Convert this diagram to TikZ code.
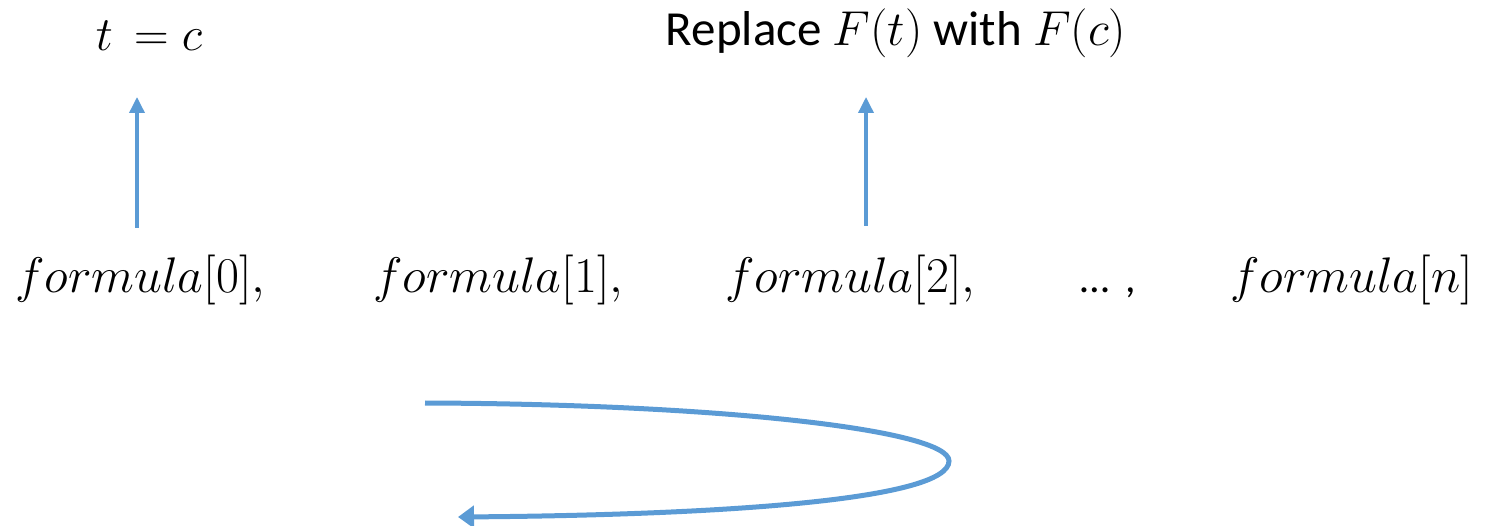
\RequirePackage{fix-cm}
\documentclass[tikz,border=0pt]{standalone}
\usepackage{fontspec}
\setmainfont{Carlito}
\usetikzlibrary{arrows.meta}
\definecolor{arrowblue}{HTML}{5B9BD5}
\begin{document}
\begin{tikzpicture}[x=1pt,y=1pt,
  lbl/.style={anchor=base,inner sep=0pt,font=\fontsize{49}{56}\selectfont},
  fml/.style={anchor=base west,inner sep=0pt,font=\fontsize{50}{56}\selectfont},
  uparrow/.style={draw=arrowblue,line width=3.5pt,-{Triangle[length=16pt,width=15pt]}},
  looparrow/.style={draw=arrowblue,line width=5pt,-{Triangle[length=16pt,width=22pt]}}]
\useasboundingbox (0,0) rectangle (1486,-526);
\node[lbl,font=\fontsize{48}{54}\selectfont] (tc) at (149,-51) {$t\,= c$};
\node[lbl] (rep) at (896,-46) {Replace $F(t)$ with $F(c)$};
\node[fml] (f0) at (15,-293) {$formula[0],$};
\node[fml] (f1) at (373,-293) {$formula[1],$};
\node[fml] (f2) at (725,-293) {$formula[2],$};
\node[fml,font=\fontsize{42}{50}\selectfont] (dots) at (1080,-293) {\dots\ \,,};
\node[fml] (fn) at (1230,-293) {$formula[n]$};
\coordinate (a1s) at (137,-228);
\coordinate (a1e) at (137,-97);
\coordinate (a2s) at (866,-226);
\coordinate (a2e) at (866,-97);
\draw[uparrow] (a1s) -- (a1e);
\draw[uparrow] (a2s) -- (a2e);
\coordinate (ls) at (425,-403);
\coordinate (lm) at (949,-461);
\coordinate (le) at (458,-517);
\draw[looparrow] (ls) .. controls (720,-404) and (949,-430) .. (lm)
  .. controls (949,-500) and (720,-515) .. (le);
\end{tikzpicture}
\end{document}
